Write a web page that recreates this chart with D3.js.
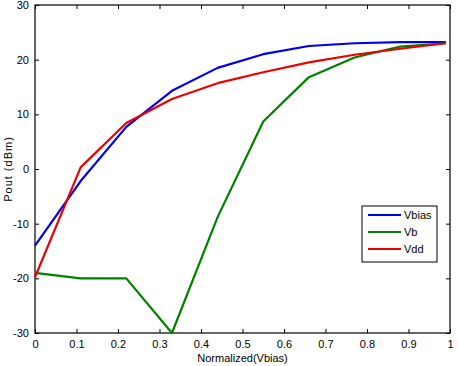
<!DOCTYPE html>
<html>
<head>
<meta charset="utf-8">
<script src="https://cdn.jsdelivr.net/npm/d3@7"></script>
<style>
  body { margin: 0; background: #fff; }
  text { font-family: "Liberation Sans", Arial, sans-serif; }
</style>
</head>
<body>
<div id="chart"></div>
<script>
var xValues = [0, 0.11, 0.22, 0.33, 0.44, 0.55, 0.66, 0.77, 0.88, 0.99];
var vbias = [-14, -2.2, 7.7, 14.3, 18.5, 21, 22.5, 23, 23.2, 23.2];
var vb = [-19, -20, -20, -30, -8.8, 8.7, 16.8, 20.4, 22.4, 23];
var vdd = [-19.8, 0.3, 8.4, 12.8, 15.7, 17.7, 19.5, 20.9, 22, 23];
var xTicks = [0, 0.1, 0.2, 0.3, 0.4, 0.5, 0.6, 0.7, 0.8, 0.9, 1];
var yTicks = [-30, -20, -10, 0, 10, 20, 30];
var seriesNames = ["Vbias", "Vb", "Vdd"];
var seriesColors = ["#0000ee", "#008000", "#ee0000"];

var width = 458, height = 366;
// plot box (note: "top" is reserved on window, so use a prefix)
var pLeft = 35, pRight = 450, pTop = 5, pBottom = 333;

var svg = d3.select("#chart").append("svg")
    .attr("width", width)
    .attr("height", height);

var x = d3.scaleLinear().domain([0, 1]).range([pLeft, pRight]);
var y = d3.scaleLinear().domain([-30, 30]).range([pBottom, pTop]);

// ticks on all four sides, pointing inward
svg.append("g")
    .attr("transform", "translate(0," + pBottom + ")")
    .call(d3.axisBottom(x).tickValues(xTicks).tickSizeInner(-4).tickSizeOuter(0).tickPadding(7)
        .tickFormat(function (d) { return d === 0 || d === 1 ? d : d.toFixed(1); }));
svg.append("g")
    .attr("transform", "translate(0," + pTop + ")")
    .call(d3.axisTop(x).tickValues(xTicks).tickSizeInner(-4).tickSizeOuter(0).tickFormat(""));
svg.append("g")
    .attr("transform", "translate(" + pLeft + ",0)")
    .call(d3.axisLeft(y).tickValues(yTicks).tickSizeInner(-4).tickSizeOuter(0).tickPadding(6)
        .tickFormat(function (d) { return String(d); })); // plain hyphen minus like the original
svg.append("g")
    .attr("transform", "translate(" + pRight + ",0)")
    .call(d3.axisRight(y).tickValues(yTicks).tickSizeInner(-4).tickSizeOuter(0).tickFormat(""));

svg.selectAll(".domain").remove();
svg.selectAll(".tick line").attr("stroke", "#000");
svg.selectAll(".tick text").attr("font-size", 11).attr("fill", "#000")
    .attr("font-family", "Liberation Sans, Arial, sans-serif");

svg.append("rect")
    .attr("x", pLeft).attr("y", pTop)
    .attr("width", pRight - pLeft).attr("height", pBottom - pTop)
    .attr("fill", "none").attr("stroke", "#000").attr("stroke-width", 1.2);

var line = d3.line()
    .x(function (d, i) { return x(xValues[i]); })
    .y(function (d) { return y(d); });

[vbias, vb, vdd].forEach(function (s, i) {
    svg.append("path")
        .datum(s)
        .attr("d", line)
        .attr("fill", "none")
        .attr("stroke", seriesColors[i])
        .attr("stroke-width", 2.2)
        .attr("stroke-linejoin", "round");
});

// axis labels
svg.append("text")
    .attr("x", (pLeft + pRight) / 2)
    .attr("y", 362)
    .attr("text-anchor", "middle")
    .attr("font-size", 11)
    .text("Normalized(Vbias)");

svg.append("text")
    .attr("transform", "translate(12," + ((pTop + pBottom) / 2) + ") rotate(-90)")
    .attr("text-anchor", "middle")
    .attr("font-size", 11)
    .attr("letter-spacing", 1)
    .text("Pout (dBm)");

// legend
var legend = svg.append("g").attr("transform", "translate(362,206)");
legend.append("rect")
    .attr("width", 75).attr("height", 56)
    .attr("fill", "#fff").attr("stroke", "#000").attr("stroke-width", 1);
seriesNames.forEach(function (name, i) {
    var ly = 9 + i * 17;
    legend.append("line")
        .attr("x1", 6).attr("x2", 39)
        .attr("y1", ly).attr("y2", ly)
        .attr("stroke", seriesColors[i]).attr("stroke-width", 2.2);
    legend.append("text")
        .attr("x", 42).attr("y", ly + 4)
        .attr("font-size", 11)
        .text(name);
});
</script>
</body>
</html>
